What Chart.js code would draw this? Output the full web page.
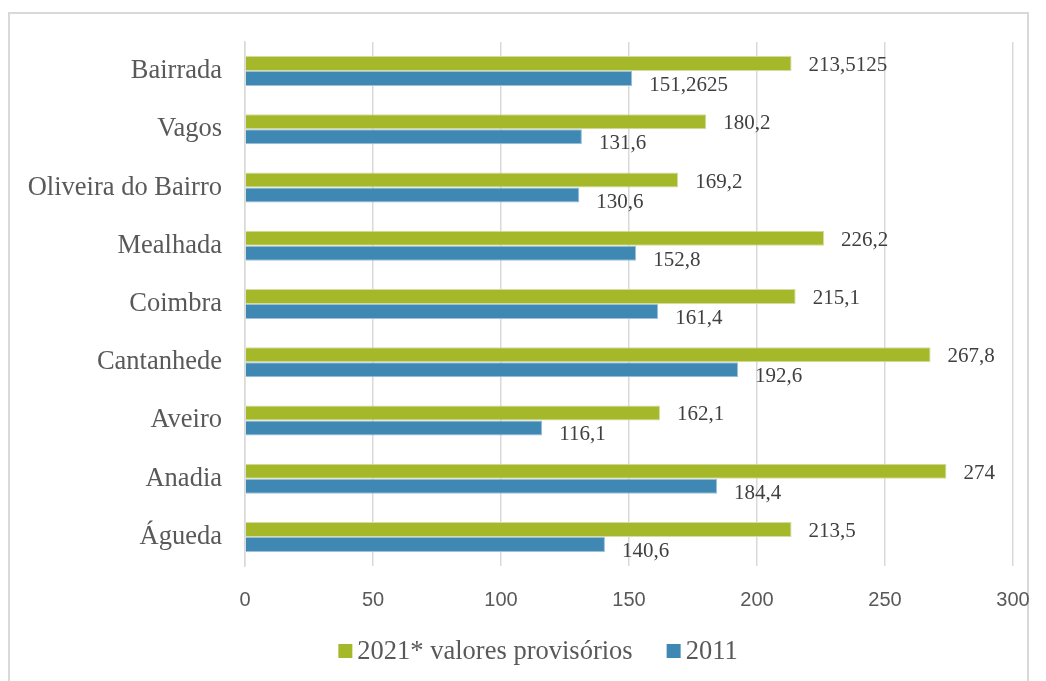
<!DOCTYPE html>
<html>
<head>
<meta charset="utf-8">
<script src="https://cdn.jsdelivr.net/npm/chart.js@4.4.1/dist/chart.umd.min.js"></script>
<style>
  html, body { margin: 0; padding: 0; background: #fff; }
  #moldura {
    position: absolute; left: 8px; top: 12px;
    width: 1021px; height: 680px;
    border: 2px solid #d9d9d9; box-sizing: border-box;
  }
  #grafico { position: absolute; left: 0; top: 0; }
</style>
</head>
<body>
<div id="moldura"></div>
<canvas id="grafico" width="1046" height="681"></canvas>
<script>
// concelhos, de cima para baixo
const concelhos = ['Bairrada', 'Vagos', 'Oliveira do Bairro', 'Mealhada', 'Coimbra',
                   'Cantanhede', 'Aveiro', 'Anadia', 'Águeda'];
const valores2021 = [213.5125, 180.2, 169.2, 226.2, 215.1, 267.8, 162.1, 274, 213.5];
const valores2011 = [151.2625, 131.6, 130.6, 152.8, 161.4, 192.6, 116.1, 184.4, 140.6];
const nomesSeries = ['2021* valores provisórios', '2011'];
const coresSeries = ['#a5b829', '#3f88b4'];

const corTexto = '#595959';
const serif = '"Liberation Serif", "Times New Roman", serif';

function formatarValor(v) {
    return String(v).replace('.', ',');
}

// escreve os valores à direita de cada barra
const rotulos = {
    id: 'rotulos',
    afterDatasetsDraw(chart) {
        var ctx = chart.ctx;
        ctx.save();
        ctx.font = '21px ' + serif;
        ctx.fillStyle = '#404040';
        ctx.textAlign = 'left';
        ctx.textBaseline = 'middle';
        chart.data.datasets.forEach((ds, i) => {
            var meta = chart.getDatasetMeta(i);
            var desvio = i === 0 ? 2 : 7;
            meta.data.forEach((barra, j) => {
                ctx.fillText(formatarValor(ds.data[j]), barra.x + 17, barra.y + desvio);
            });
        });
        ctx.restore();
    }
};

// legenda em baixo, quadrado + texto
const legenda = {
    id: 'legenda',
    afterDraw(chart) {
        var ctx = chart.ctx;
        ctx.save();
        ctx.font = '26.5px ' + serif;
        ctx.textBaseline = 'middle';
        ctx.textAlign = 'left';
        var lado = 14, folga = 5, entre = 34;
        var larguras = chart.data.datasets.map(ds => ctx.measureText(ds.label).width);
        var total = larguras.reduce((a, b) => a + b, 0) + chart.data.datasets.length * (lado + folga) + entre;
        var x = chart.width / 2 + 15 - total / 2;
        var y = 651;
        chart.data.datasets.forEach((ds, i) => {
            ctx.fillStyle = ds.backgroundColor;
            ctx.fillRect(x, y - lado / 2, lado, lado);
            x += lado + folga;
            ctx.fillStyle = corTexto;
            ctx.fillText(ds.label, x, y + 1);
            x += larguras[i] + entre;
        });
        ctx.restore();
    }
};

var ctx = document.getElementById('grafico').getContext('2d');
var chart = new Chart(ctx, {
    type: 'bar',
    data: {
        labels: concelhos,
        datasets: [
            { label: nomesSeries[0], data: valores2021, backgroundColor: coresSeries[0],
              borderColor: '#d4dca4', borderWidth: 1 },
            { label: nomesSeries[1], data: valores2011, backgroundColor: coresSeries[1],
              borderColor: '#9cc0d8', borderWidth: 1 }
        ]
    },
    options: {
        indexAxis: 'y',
        responsive: false,
        animation: false,
        layout: { padding: { left: 20, right: 33, top: 42, bottom: 47 } },
        datasets: { bar: { barPercentage: 1, categoryPercentage: 0.515 } },
        scales: {
            x: {
                min: 0, max: 300,
                ticks: { stepSize: 50, color: corTexto, padding: 22,
                         font: { family: '"Liberation Sans", Arial, sans-serif', size: 20 } },
                grid: { color: '#d9d9d9', lineWidth: 1.5, drawTicks: false },
                border: { display: false },
                afterFit(scale) { scale.paddingLeft = 0; scale.paddingRight = 0; }
            },
            y: {
                ticks: { color: corTexto, padding: 23, font: { family: serif, size: 26.5 } },
                grid: { display: false, drawTicks: false },
                border: { color: '#d9d9d9', width: 1.5 },
                afterFit(scale) {
                    scale.width = 225;
                    scale.paddingTop = 0;
                    scale.paddingBottom = 0;
                }
            }
        },
        plugins: {
            legend: { display: false },
            tooltip: { enabled: false }
        }
    },
    plugins: [rotulos, legenda]
});
</script>
</body>
</html>
